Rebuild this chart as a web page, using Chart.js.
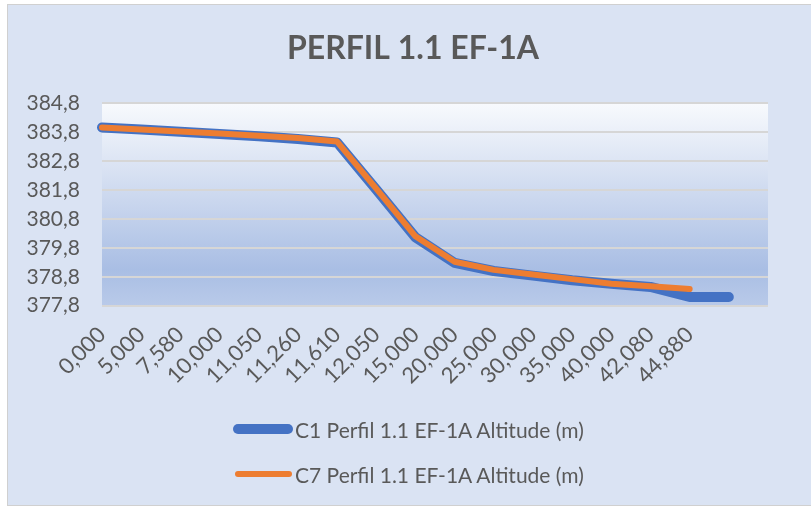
<!DOCTYPE html>
<html>
<head>
<meta charset="utf-8">
<script src="https://cdn.jsdelivr.net/npm/chart.js@4/dist/chart.umd.min.js"></script>
<style>
  html, body { margin: 0; padding: 0; background: #ffffff; width: 811px; height: 509px; overflow: hidden; }
  #frame { position: absolute; left: 7px; top: 4px; width: 806px; height: 500px; background: #dae3f3; border: 1px solid #d0d0d0; }
  #wrap { position: absolute; left: 0; top: 0; width: 811px; height: 509px; }
  .lg { position: absolute; left: 0; font-family: Lato, "Open Sans", sans-serif; font-size: 21px; color: #595959; white-space: nowrap; }
  .sw { position: absolute; }
  .tx { position: absolute; left: 295px; transform: translateY(-50%); }
</style>
</head>
<body>
<div id="frame"></div>
<div id="wrap"><canvas id="c" width="811" height="509"></canvas></div>
<div class="lg" style="top:0">
  <div class="sw" style="left:233px; top:424px; width:60px; height:10px; border-radius:5px; background:#4472C4;"></div>
  <div class="tx" style="top:429px;">C1 Perfil 1.1 EF-1A Altitude (m)</div>
  <div class="sw" style="left:235px; top:471px; width:57px; height:6px; border-radius:3px; background:#ED7D31;"></div>
  <div class="tx" style="top:474px;">C7 Perfil 1.1 EF-1A Altitude (m)</div>
</div>
<script>
const chartTitle = 'PERFIL 1.1 EF-1A';
const categories = ['0,000','5,000','7,580','10,000','11,050','11,260','11,610','12,050','15,000','20,000','25,000','30,000','35,000','40,000','42,080','44,880','',''];
const seriesC1Name = 'C1 Perfil 1.1 EF-1A Altitude (m)';
const seriesC1 = [383.97, 383.90, 383.82, 383.74, 383.66, 383.57, 383.45, 381.82, 380.17, 379.28, 379.00, 378.84, 378.68, 378.56, 378.45, 378.10, 378.10];
const seriesC7Name = 'C7 Perfil 1.1 EF-1A Altitude (m)';
const seriesC7 = [383.97, 383.90, 383.83, 383.76, 383.68, 383.60, 383.48, 381.85, 380.20, 379.32, 379.04, 378.88, 378.72, 378.56, 378.47, 378.38];
const yMin = 377.8, yMax = 384.8, yStep = 1;

const plotBg = {
  id: 'plotBg',
  beforeDraw(chart) {
    const {ctx, chartArea: a} = chart;
    const g = ctx.createLinearGradient(0, a.top, 0, a.bottom);
    g.addColorStop(0, '#f8fafd');
    g.addColorStop(0.45, '#cdd9ef');
    g.addColorStop(0.82, '#a9bee4');
    g.addColorStop(1, '#b9cae9');
    ctx.save();
    ctx.fillStyle = g;
    ctx.fillRect(a.left, a.top, a.right - a.left, a.bottom - a.top);
    ctx.restore();
  }
};

new Chart(document.getElementById('c'), {
  type: 'line',
  data: {
    labels: categories,
    datasets: [
      { label: seriesC1Name, data: seriesC1, borderColor: '#4472C4', backgroundColor: '#4472C4', borderWidth: 10, pointRadius: 0, tension: 0, borderCapStyle: 'round', borderJoinStyle: 'round', order: 2 },
      { label: seriesC7Name, data: seriesC7, borderColor: '#ED7D31', backgroundColor: '#ED7D31', borderWidth: 6, pointRadius: 0, tension: 0, borderCapStyle: 'round', borderJoinStyle: 'round', order: 1 }
    ]
  },
  options: {
    responsive: false,
    animation: false,
    layout: { padding: { left: 20, right: 5, top: 0, bottom: 0 } },
    plugins: {
      legend: { display: false },
      tooltip: { enabled: false },
      title: {
        display: true, text: chartTitle, color: '#595959',
        font: { family: 'Lato, "Open Sans", sans-serif', size: 32, weight: 'bold' },
        padding: { top: 29, bottom: 36 }
      }
    },
    scales: {
      x: {
        offset: false,
        grid: { display: false, drawTicks: false },
        border: { display: false },
        ticks: { autoSkip: false, minRotation: 45, maxRotation: 45, padding: 16, color: '#595959', font: { family: 'Lato, "Open Sans", sans-serif', size: 22 } },
        afterFit(s) { s.height = 203.3; }
      },
      y: {
        min: yMin, max: yMax,
        grid: { color: '#d6d6d6', lineWidth: 2, drawTicks: false },
        border: { display: false },
        ticks: { stepSize: yStep, padding: 22, color: '#595959', font: { family: 'Lato, "Open Sans", sans-serif', size: 21 },
          callback: v => Number(v).toFixed(1).replace('.', ',') },
        afterFit(s) { s.width = 82; }
      },
      yRight: {
        position: 'right',
        display: true,
        grid: { display: false, drawTicks: false },
        border: { display: false },
        ticks: { display: false },
        afterFit(s) { s.width = 38; }
      }
    }
  },
  plugins: [plotBg]
});
</script>
</body>
</html>
